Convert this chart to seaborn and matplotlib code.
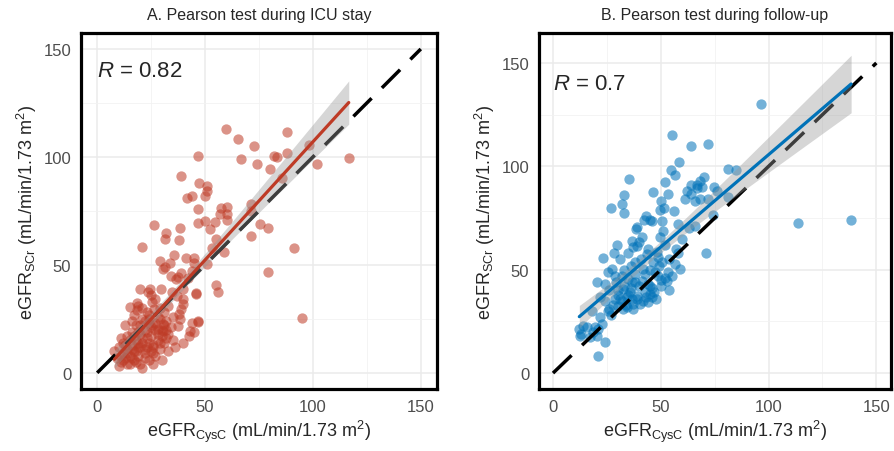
import numpy as np
import pandas as pd
import matplotlib
matplotlib.use("Agg")
import matplotlib.pyplot as plt
import seaborn as sns
from matplotlib.ticker import MultipleLocator

# ---------------- data ----------------
icu_cysc = [59.5, 46.5, 38.7, 47, 50.7, 50.7, 50, 43.8, 41.5, 46.5, 57.6, 56.7, 49.8, 46.5, 54.8, 52.5,
            26.3, 31.8, 31.3, 38.2, 37.8, 20.7,
            88, 65.4, 72.8, 82, 83.4, 88, 98, 66.8, 74.2, 80, 102, 116.6, 85.7, 71.4, 71.4, 60.4, 60, 60,
            75.6, 79.3, 71.4, 91, 59, 79.3, 95,
            35.5, 41, 44.7, 29, 33.6, 31.3, 30.4, 45, 50.7, 39, 37.3, 36.4, 55.3, 55.8, 46, 19.8, 24.4, 29.5,
            23.5, 18.4, 15.2, 18.4, 25.3, 26.3, 34.6, 36.9, 40, 39.6, 39, 38, 38.6, 37.3, 46.5, 42.9, 45, 42.4,
            30.4, 28, 30.4,
            8, 9, 10, 11, 12, 12, 13, 14, 14, 15, 15, 16, 16, 17, 17, 18, 18, 19, 19, 20, 20, 21, 21, 22, 22,
            23, 23, 24, 24, 25, 25, 26, 27, 27, 28, 28, 29, 30, 31, 32, 33, 33, 34, 35, 13, 10, 17, 26, 30, 21,
            36, 40, 44, 11, 19, 23, 16,
            22, 24, 26, 29, 31, 33, 27, 21, 35, 32, 29, 25, 34, 42, 44, 40, 53, 55,
            12, 14, 16, 18, 20, 22, 24, 26, 28, 30, 13, 15, 17, 19, 21, 23, 25, 27, 29, 31,
            18, 22, 26, 20, 24, 32, 14, 11, 16, 19, 46, 46.5]
icu_scr = [113, 100.5, 91, 88, 86.6, 84, 82, 82, 81, 76, 76.4, 73.6, 70.4, 69.4, 70, 66.7,
           68.5, 64.8, 62, 67, 61.6, 58.3,
           111.6, 108.3, 105, 100.5, 100, 102, 105.5, 99, 96.8, 94.4, 96.8, 99.5, 90.3, 78, 75, 77, 73.6, 71,
           69, 67, 63.4, 58, 56, 46.8, 25.5,
           54.6, 53, 53, 52, 51, 49, 48, 51, 50.5, 46, 44.4, 43.5, 40.7, 37.5, 37, 38.9, 38.9, 38.9,
           37.5, 32.4, 30.5, 29, 33, 29.6, 37.5, 35.6, 34.3, 32, 29.6, 27.3, 25, 21.8, 24, 19.4, 19, 17,
           22.7, 20.4, 19.4,
           10, 7, 12, 5, 9, 14, 7, 11, 17, 4, 8, 13, 19, 10, 6, 15, 22, 8, 12, 18, 4, 14, 25, 9, 20,
           12, 16, 6, 23, 10, 17, 13, 20, 8, 15, 26, 11, 17, 14, 24, 10, 18, 21, 15, 22, 3, 27, 4, 6, 2,
           12, 14, 23, 16, 31, 28, 24,
           24, 27, 22, 25, 28, 31, 34, 30, 26, 20, 30, 36, 45, 44, 47, 39, 58, 62,
           6, 9, 7, 10, 12, 11, 14, 12, 18, 20, 13, 15, 17, 19, 16, 19, 21, 23, 14, 22,
           5, 7, 9, 22, 25, 16, 4, 8, 11, 14, 36.6, 23.6]

fu_cysc = [55.2, 64, 58.5, 54.8, 56.6, 35.3, 52, 64, 33, 32, 27, 33, 46.4, 53.4, 50, 51.5, 49.7, 56.1,
           61.3, 64, 43, 45, 42.2, 46, 50.6, 39,
           96.5, 72, 81, 85, 74.7, 67, 69, 66.8, 68, 66, 81, 74, 113.7, 71, 138.3, 66,
           38.5, 41.3, 49.7, 51, 29.7, 28.3, 23.2, 36.7, 37, 39, 40, 43.6, 48.3, 48.7, 38, 46.4, 50.6, 56.6,
           59, 53.4, 27.4, 25.5, 28.8, 20.4, 24,
           41.8, 42.7, 41.3, 47.3, 52.9, 48.7,
           34.8, 36.7, 32.5, 35.7, 36.7, 39, 42.7, 45, 46, 44, 41.8, 40.4, 34.3, 32, 30.2, 32.5, 34.3, 28.8, 37.1,
           24.1, 25.5, 21.8, 22.7, 19.5, 20.9, 20.4, 24.1, 18.6, 15.8, 13.9, 12.2, 12.4, 17.2, 13.0, 20.9,
           45, 50, 55, 38, 33, 44, 52, 57, 60, 63, 58, 35, 31, 26, 30, 22, 18, 27, 48, 54,
           30, 33, 36, 38, 40, 44, 46, 35, 39, 43, 47, 50, 52, 31, 28, 26, 34, 37,
           29, 45, 49, 41, 36, 32, 54, 58,
           62, 70, 76, 72, 68]
fu_scr = [115, 109.7, 102, 98, 95.7, 93.7, 92.3, 90.8, 86, 82, 80, 77.3, 87.4, 86.5, 83, 80, 78.7, 78.3,
          84, 86.5, 75.8, 74, 74, 73.4, 73.4, 70.5,
          130, 111, 98.5, 98, 90, 91, 90, 89.4, 84, 83, 85, 76.3, 72.5, 58, 74, 71,
          69.6, 66, 66, 68.6, 61.8, 58, 55.5, 63.8, 61, 61.4, 63.3, 57.5, 58.4, 56, 53.6, 53.6, 53.6, 52.6,
          50.2, 48.8, 50.2, 48.8, 46.9, 44, 43,
          50.2, 47.8, 44.4, 48.8, 44.4, 46.9,
          45.4, 44, 40.6, 39.1, 35.7, 37.2, 39.1, 38.2, 36.7, 34.3, 34.8, 33.3, 36.7, 34.8, 32.4, 30.9, 31.9, 35.7, 33.3,
          34.8, 30, 27, 23.7, 22.2, 21.3, 17.9, 15, 19.8, 22.2, 22.7, 21.3, 17.9, 17.4, 18.8, 8.2,
          42, 45, 47, 48, 50, 60, 62, 60, 65, 70, 72, 58, 55, 40, 38, 37, 30, 28, 36, 40,
          40, 42, 41, 44, 42, 43, 41, 38, 36, 37, 39, 42, 46, 36, 33, 31, 33, 31,
          44, 50, 52, 55, 52, 47, 55, 58,
          88, 95, 88, 84, 93]

r_labels = ["0.82", "0.7"]
titles = ["A. Pearson test during ICU stay", "B. Pearson test during follow-up"]
identity_range = [0, 150]
tick_values = [0, 50, 100, 150]

# ---------------- style ----------------
sns.set_style("white")
plt.rcParams['font.family'] = ['Liberation Sans', 'DejaVu Sans']
plt.rcParams['mathtext.fontset'] = 'custom'
plt.rcParams['mathtext.rm'] = 'Liberation Sans'
plt.rcParams['mathtext.it'] = 'Liberation Sans:italic'
plt.rcParams['mathtext.bf'] = 'Liberation Sans:bold'

fig = plt.figure(figsize=(8.94, 4.52), dpi=100)
W, H = 894, 452
axA = fig.add_axes([81 / W, 1 - 390 / H, (437 - 81) / W, (390 - 34) / H])
axB = fig.add_axes([539 / W, 1 - 390 / H, (891 - 539) / W, (390 - 34) / H])

panels = [
    (axA, icu_cysc, icu_scr, "#BE3B26", (-7.5, 157.5), (-7.5, 157.4)),
    (axB, fu_cysc, fu_scr, "#0072B8", (-6.5, 156.8), (-7.7, 164.5)),
]

T_CRIT = 1.972  # 95% t quantile for ~200 df

for i, (ax, xs, ys, col, xl, yl) in enumerate(panels):
    df = pd.DataFrame({"cysc": xs, "scr": ys})
    ax.plot(identity_range, identity_range, color="black", lw=2.5,
            dashes=(7.4, 4.2), zorder=3, solid_capstyle="butt", dash_capstyle="butt")
    sns.regplot(data=df, x="cysc", y="scr", ax=ax, color=col, ci=None,
                scatter_kws=dict(s=55, alpha=0.55, linewidths=0, zorder=2),
                line_kws=dict(lw=2.3, zorder=5))
    # analytic 95% confidence band of the linear fit (as in ggplot geom_smooth(method="lm"))
    x = df["cysc"].to_numpy(float)
    y = df["scr"].to_numpy(float)
    n = len(x)
    b1, b0 = np.polyfit(x, y, 1)
    resid = y - (b0 + b1 * x)
    s = np.sqrt(np.sum(resid ** 2) / (n - 2))
    grid = np.linspace(x.min(), x.max(), 100)
    se = s * np.sqrt(1 / n + (grid - x.mean()) ** 2 / np.sum((x - x.mean()) ** 2))
    fit = b0 + b1 * grid
    ax.fill_between(grid, fit - T_CRIT * se, fit + T_CRIT * se, color="#999999",
                    alpha=0.4, linewidth=0, zorder=4)
    ax.set_xlim(*xl)
    ax.set_ylim(*yl)
    ax.set_xticks(tick_values)
    ax.set_yticks(tick_values)
    ax.xaxis.set_minor_locator(MultipleLocator(25))
    ax.yaxis.set_minor_locator(MultipleLocator(25))
    ax.grid(which="major", color="#EBEBEB", lw=1.1, zorder=0)
    ax.grid(which="minor", color="#F2F2F2", lw=0.6, zorder=0)
    ax.set_axisbelow(True)
    ax.tick_params(which="both", length=0, labelsize=12, labelcolor="#4D4D4D", pad=7)
    for sp in ax.spines.values():
        sp.set_visible(True)
        sp.set_color("black")
        sp.set_linewidth(2.3)
    ax.set_xlabel(r"eGFR$_{\mathregular{CysC}}$ (mL/min/1.73 m$^{2}$)", fontsize=13, labelpad=3)
    ax.set_ylabel(r"eGFR$_{\mathregular{SCr}}$ (mL/min/1.73 m$^{2}$)", fontsize=13, labelpad=3)
    ax.set_title(titles[i], fontsize=11.5, pad=10)
    ax.text(0, 140, r"$R$ = " + r_labels[i], fontsize=16, ha="left", va="center", zorder=6)

fig.savefig("out.png", dpi=100)
